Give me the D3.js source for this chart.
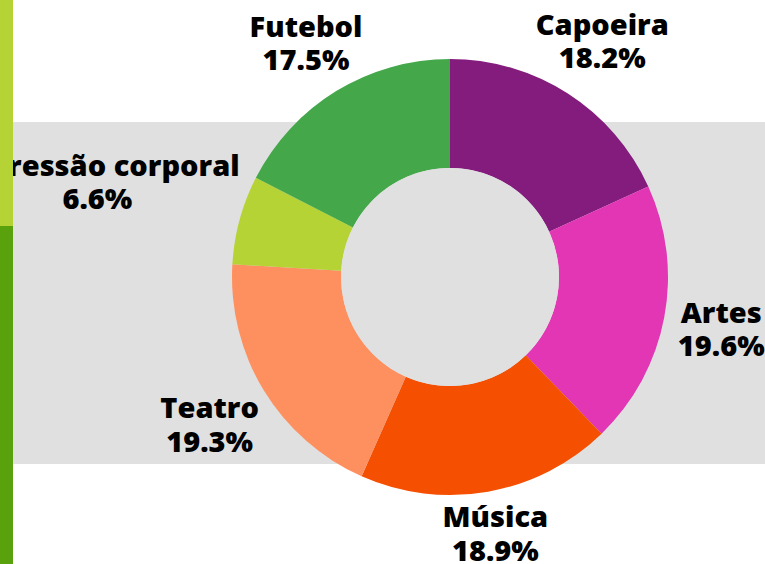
<!DOCTYPE html>
<html>
<head>
<meta charset="utf-8">
<script src="https://cdn.jsdelivr.net/npm/d3@7"></script>
<style>
  body { margin: 0; background: #fff; }
  svg { display: block; font-family: "Open Sans", sans-serif; }
</style>
</head>
<body>
<div id="chart"></div>
<script>
// Data
const categories = ["Capoeira", "Artes", "Música", "Teatro", "Expressão corporal", "Futebol"];
const shares = [18.2, 19.6, 18.9, 19.3, 6.6, 17.5];
const sliceColors = ["#841c7e", "#e236b4", "#f54f02", "#fe8f5f", "#b5d334", "#44a84b"];

const width = 765, height = 564;
const cx = 450, cy = 277;
const outerR = 218, innerR = 109;

const svg = d3.select("#chart")
  .append("svg")
    .attr("width", width)
    .attr("height", height);

// Background band
svg.append("rect")
  .attr("x", 13).attr("y", 122)
  .attr("width", width - 13).attr("height", 342)
  .attr("fill", "#e0e0e0");

const g = svg.append("g")
  .attr("transform", `translate(${cx},${cy})`);

const data = categories.map((c, i) => ({ name: c, value: shares[i], color: sliceColors[i] }));

const pie = d3.pie()
  .value(d => d.value)
  .sort(null);

const arc = d3.arc()
  .innerRadius(innerR)
  .outerRadius(outerR);

const arcs = pie(data);

// Slices
g.selectAll("path")
  .data(arcs)
  .enter()
  .append("path")
    .attr("d", arc)
    .attr("fill", d => d.data.color);

// Hole
g.append("circle")
  .attr("r", innerR)
  .attr("fill", "#e0e0e0");

// Labels
const labels = g.selectAll("text.lbl")
  .data(arcs)
  .enter()
  .append("text")
    .attr("class", "lbl")
    .attr("text-anchor", "middle")
    .style("font-size", "29px")
    .style("font-weight", "800")
    .attr("fill", "#000");

labels.append("tspan")
  .attr("x", 0).attr("dy", 0)
  .text(d => d.data.name);
labels.append("tspan")
  .attr("x", 0).attr("dy", "1.15em")
  .text(d => d.data.value.toFixed(1) + "%");

// push each label box outside the ring, depending on its size
labels.each(function(d) {
  const bb = this.getBBox();
  const a = (d.startAngle + d.endAngle) / 2;
  const s = Math.sin(a), c = Math.cos(a);
  const r = 233 + Math.abs(s) * bb.width * 0.465 + Math.abs(c) * bb.height / 4;
  const px = s * r, py = -c * r;
  const boxCy = bb.y + bb.height / 2;
  d3.select(this).attr("transform", `translate(${px},${py - boxCy})`);
});

// Left side bars
svg.append("rect")
  .attr("x", 0).attr("y", 0)
  .attr("width", 13).attr("height", 226)
  .attr("fill", "#b5d334");
svg.append("rect")
  .attr("x", 0).attr("y", 226)
  .attr("width", 13).attr("height", height - 226)
  .attr("fill", "#5aa10e");
</script>
</body>
</html>
